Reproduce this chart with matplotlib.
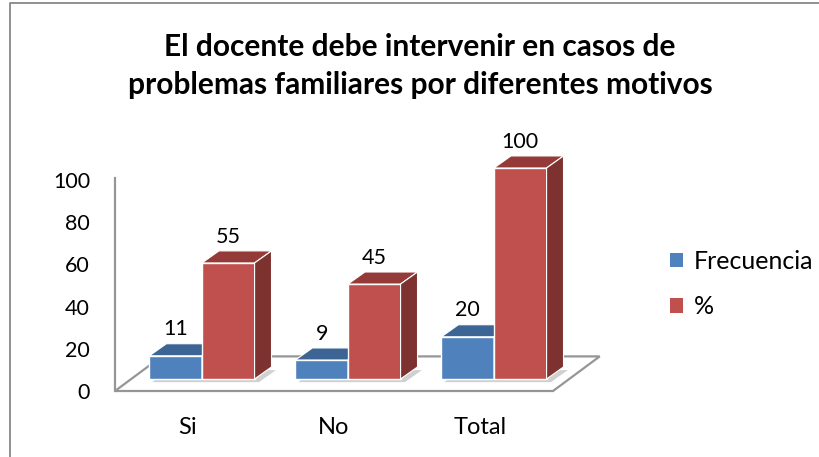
import matplotlib
matplotlib.use('Agg')
import matplotlib.pyplot as plt
from matplotlib.patches import Polygon, Patch
from matplotlib.lines import Line2D

# datos del grafico
categorias = ['Si', 'No', 'Total']
frecuencia = [11, 9, 20]
porcentaje = [55, 45, 100]
series = ['Frecuencia', '%']
titulo = 'El docente debe intervenir en casos de\nproblemas familiares por diferentes motivos'

# colores estilo Excel
azul, azul_top, azul_lado = '#4F81BD', '#3C6494', '#345780'
rojo, rojo_top, rojo_lado = '#C0504D', '#943A38', '#7D3230'
gris = '#969696'

plt.rcParams['font.family'] = ['Lato', 'DejaVu Sans']

fig = plt.figure(figsize=(8.2, 4.57), dpi=100)
ax = fig.add_axes([115 / 820, 66 / 457, 438 / 820, 211 / 457])
ax.set_xlim(-0.5, 2.5)
ax.set_ylim(0, 100)

# desplazamientos de la perspectiva (en unidades de datos)
fx, fy = 0.096, 5.7      # cara frontal de las barras
px, py = 0.116, 5.7      # profundidad de las barras
sx, sy = 0.32, 16.4      # profundidad del piso
w = 0.36

# piso
piso = Polygon([(-0.5, 0), (2.5, 0), (2.5 + sx, sy), (-0.5 + sx, sy)],
               closed=True, facecolor='white', edgecolor=gris, lw=1.6,
               clip_on=False, zorder=1)
ax.add_patch(piso)

for i in range(len(categorias)):
    for j, (vals, c, ct, cl) in enumerate([(frecuencia, azul, azul_top, azul_lado),
                                          (porcentaje, rojo, rojo_top, rojo_lado)]):
        v = vals[i]
        x0 = i - w + j * w + fx
        z = 3 + i * 3 + j
        # sombra
        ax.add_patch(Polygon([(x0 + 0.02, fy - 1.5), (x0 + w + 0.03, fy - 1.5),
                              (x0 + w + px + 0.03, fy + py - 1.5), (x0 + px, fy + py - 1.5)],
                             closed=True, facecolor='#d0d0d0', edgecolor='none',
                             clip_on=False, zorder=2))
        ax.bar(x0, v, width=w, bottom=fy, align='edge', color=c,
               edgecolor='white', lw=1.0, zorder=z, clip_on=False)
        top = fy + v
        ax.add_patch(Polygon([(x0, top), (x0 + w, top), (x0 + w + px, top + py), (x0 + px, top + py)],
                             closed=True, facecolor=ct, edgecolor='white', lw=0.8,
                             clip_on=False, zorder=z))
        ax.add_patch(Polygon([(x0 + w, fy), (x0 + w + px, fy + py), (x0 + w + px, top + py), (x0 + w, top)],
                             closed=True, facecolor=cl, edgecolor='white', lw=0.8,
                             clip_on=False, zorder=z))
        ax.text(x0 + w / 2, top + py + 6.8, str(v), ha='center', va='center',
                fontsize=15.5, color='black', zorder=20)

for s in ['top', 'right', 'bottom']:
    ax.spines[s].set_visible(False)
ax.spines['left'].set_color(gris)
ax.spines['left'].set_linewidth(1.6)
ax.spines['left'].set_bounds(0, 101)

ax.set_yticks([0, 20, 40, 60, 80, 100])
ax.set_xticks(range(len(categorias)))
ax.set_xticklabels(categorias)
ax.tick_params(axis='y', length=0, pad=18, labelsize=15.5)
ax.tick_params(axis='x', length=0, pad=19, labelsize=17)
ax.set_facecolor('none')

fig.text(420 / 820, 1 - 66 / 457, titulo, ha='center', va='center',
         fontsize=21.5, fontweight='bold', linespacing=1.42)

handles = [Patch(facecolor=azul, edgecolor='none'), Patch(facecolor=rojo, edgecolor='none')]
fig.legend(handles, series, loc='center left', bbox_to_anchor=(648 / 820, 1 - 284 / 457),
           frameon=False, fontsize=18, handlelength=0.5, handleheight=0.5,
           handletextpad=0.45, labelspacing=0.9)

# marco del grafico (solo borde superior e izquierdo visibles)
fig.add_artist(Line2D([10 / 820, 10 / 820, 1.0], [0.0, 1 - 3 / 457, 1 - 3 / 457],
                      transform=fig.transFigure, color='#888888', lw=1.3))

fig.savefig('out.png', dpi=100)
